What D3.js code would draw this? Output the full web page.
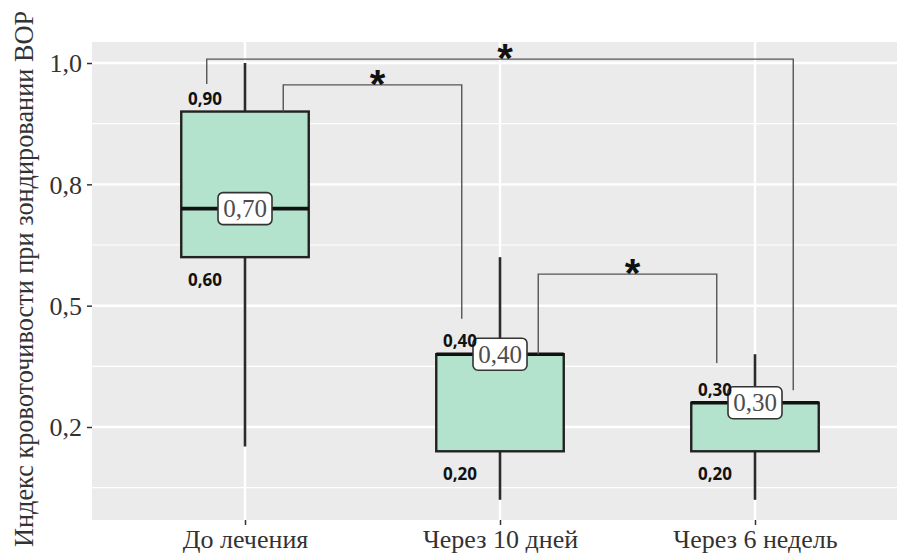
<!DOCTYPE html>
<html>
<head>
<meta charset="utf-8">
<script src="https://cdn.jsdelivr.net/npm/d3@7"></script>
<style>
body { margin: 0; background: #fff; }
svg { display: block; }
.axis text { font-family: "Liberation Serif", serif; font-size: 26px; fill: #333; }
.axis line { stroke: #333; stroke-width: 1.5; }
</style>
</head>
<body>
<script>
// data
var categories = ["До лечения", "Через 10 дней", "Через 6 недель"];
var whiskerLow = [0.21, 0.10, 0.10];
var q1 = [0.60, 0.20, 0.20];
var median = [0.70, 0.40, 0.30];
var q3 = [0.90, 0.40, 0.30];
var whiskerHigh = [1.00, 0.60, 0.40];
var medianLabels = ["0,70", "0,40", "0,30"];
var q1Labels = ["0,60", "0,20", "0,20"];
var q3Labels = ["0,90", "0,40", "0,30"];

var yTicks = [1, 0.75, 0.5, 0.25];
var yTickLabels = ["1,0", "0,8", "0,5", "0,2"];
var yMinor = [0.875, 0.625, 0.375, 0.125];

// significance brackets
var pairFrom = [0, 0, 1];
var pairTo = [2, 1, 2];
var barLevel = [1.008, 0.955, 0.565];
var legFromEnd = [0.957, 0.90, 0.40];
var legToEnd = [0.326, 0.473, 0.382];
var legSideFrom = [-1, 1, 1];
var legSideTo = [1, -1, -1];
var pairLabels = ["*", "*", "*"];

var W = 897, H = 556;
var padL = 92, padT = 42, padB = 520;

var svg = d3.select("body").append("svg")
    .attr("width", W)
    .attr("height", H);

var x = d3.scalePoint()
    .domain(categories)
    .range([padL, padL + 816])
    .padding(0.6);
var step = x.step();
var boxW = step * 0.5;

var y = d3.scaleLinear()
    .domain([0.0584, 1.0433])
    .range([padB, padT]);

//panel
svg.append("rect")
    .attr("x", padL)
    .attr("y", padT)
    .attr("width", W - padL)
    .attr("height", padB - padT)
    .attr("fill", "#ebebeb");

//grid
svg.selectAll(".minor").data(yMinor).enter().append("line")
    .attr("x1", padL).attr("x2", W)
    .attr("y1", function(d) { return y(d); })
    .attr("y2", function(d) { return y(d); })
    .attr("stroke", "#fff").attr("stroke-width", 1.2);

svg.selectAll(".major").data(yTicks).enter().append("line")
    .attr("x1", padL).attr("x2", W)
    .attr("y1", function(d) { return y(d); })
    .attr("y2", function(d) { return y(d); })
    .attr("stroke", "#fff").attr("stroke-width", 2.4);

svg.selectAll(".vgrid").data(categories).enter().append("line")
    .attr("x1", function(d) { return x(d); })
    .attr("x2", function(d) { return x(d); })
    .attr("y1", padT).attr("y2", padB)
    .attr("stroke", "#fff").attr("stroke-width", 2.4);

//axes
var yAxis = svg.append("g").classed("axis", true)
    .attr("transform", "translate(" + padL + ",0)")
    .call(d3.axisLeft(y).tickValues(yTicks).tickSize(5).tickPadding(5)
        .tickFormat(function(d, i) { return yTickLabels[i]; }));
yAxis.select(".domain").remove();
yAxis.selectAll("text").attr("dy", "0.34em");

var xAxis = svg.append("g").classed("axis", true)
    .attr("transform", "translate(0," + padB + ")")
    .call(d3.axisBottom(x).tickSize(5).tickPadding(4));
xAxis.select(".domain").remove();
xAxis.selectAll("text").attr("dy", "0.72em");

svg.append("text")
    .attr("transform", "translate(33,279) rotate(-90)")
    .attr("text-anchor", "middle")
    .style("font-family", "Liberation Serif, serif")
    .style("font-size", "26.3px")
    .style("fill", "#333")
    .text("Индекс кровоточивости при зондировании BOP");

var idx = d3.range(categories.length);

//whiskers
svg.selectAll(".whisker").data(idx).enter().append("line")
    .attr("x1", function(i) { return x(categories[i]); })
    .attr("x2", function(i) { return x(categories[i]); })
    .attr("y1", function(i) { return y(whiskerLow[i]); })
    .attr("y2", function(i) { return y(whiskerHigh[i]); })
    .attr("stroke", "#2b2b2b").attr("stroke-width", 2.6);

//boxes
svg.selectAll(".box").data(idx).enter().append("rect")
    .attr("x", function(i) { return x(categories[i]) - boxW / 2; })
    .attr("width", boxW)
    .attr("y", function(i) { return y(q3[i]); })
    .attr("height", function(i) { return y(q1[i]) - y(q3[i]); })
    .attr("fill", "#b3e2cd")
    .attr("stroke", "#222").attr("stroke-width", 2.4);

svg.selectAll(".median").data(idx).enter().append("line")
    .attr("x1", function(i) { return x(categories[i]) - boxW / 2; })
    .attr("x2", function(i) { return x(categories[i]) + boxW / 2; })
    .attr("y1", function(i) { return y(median[i]); })
    .attr("y2", function(i) { return y(median[i]); })
    .attr("stroke", "#111").attr("stroke-width", 3.6);

//median labels
var ml = svg.selectAll(".mlabel").data(idx).enter().append("g")
    .attr("transform", function(i) {
        return "translate(" + x(categories[i]) + "," + y(median[i]) + ")";
    });
ml.append("rect")
    .attr("x", -27).attr("y", -16)
    .attr("width", 54).attr("height", 32)
    .attr("rx", 5)
    .attr("fill", "#fff")
    .attr("stroke", "#333").attr("stroke-width", 1.6);
ml.append("text")
    .attr("text-anchor", "middle")
    .attr("y", 8.5)
    .style("font-family", "Liberation Serif, serif")
    .style("font-size", "25px")
    .style("fill", "#4d4d4d")
    .text(function(i) { return medianLabels[i]; });

//quartile labels
function quartText(cls, labels, vals, dy) {
    svg.selectAll("." + cls).data(idx).enter().append("text")
        .attr("x", function(i) { return x(categories[i]) - 57; })
        .attr("y", function(i) { return y(vals[i]) + dy; })
        .style("font-family", "Open Sans, sans-serif")
        .style("font-weight", "bold")
        .style("font-size", "17px")
        .style("fill", "#111")
        .text(function(i) { return labels[i]; });
}
quartText("q3l", q3Labels, q3, -7);
quartText("q1l", q1Labels, q1, 29);

//significance brackets
var br = d3.range(pairFrom.length);
function legX(j, end) {
    return end === 0
        ? x(categories[pairFrom[j]]) + legSideFrom[j] * step * 0.15
        : x(categories[pairTo[j]]) + legSideTo[j] * step * 0.15;
}
svg.selectAll(".bracket").data(br).enter().append("path")
    .attr("d", function(j) {
        return "M" + legX(j, 0) + "," + y(legFromEnd[j]) +
            "V" + y(barLevel[j]) + "H" + legX(j, 1) + "V" + y(legToEnd[j]);
    })
    .attr("fill", "none")
    .attr("stroke", "#555").attr("stroke-width", 1.4);

svg.selectAll(".star").data(br).enter().append("text")
    .attr("x", function(j) { return (legX(j, 0) + legX(j, 1)) / 2 + 5; })
    .attr("y", function(j) { return y(barLevel[j]) + 13; })
    .attr("text-anchor", "middle")
    .style("font-family", "Liberation Sans, sans-serif")
    .style("font-weight", "bold")
    .style("font-size", "40px")
    .style("fill", "#111")
    .text(function(j) { return pairLabels[j]; });
</script>
</body>
</html>
